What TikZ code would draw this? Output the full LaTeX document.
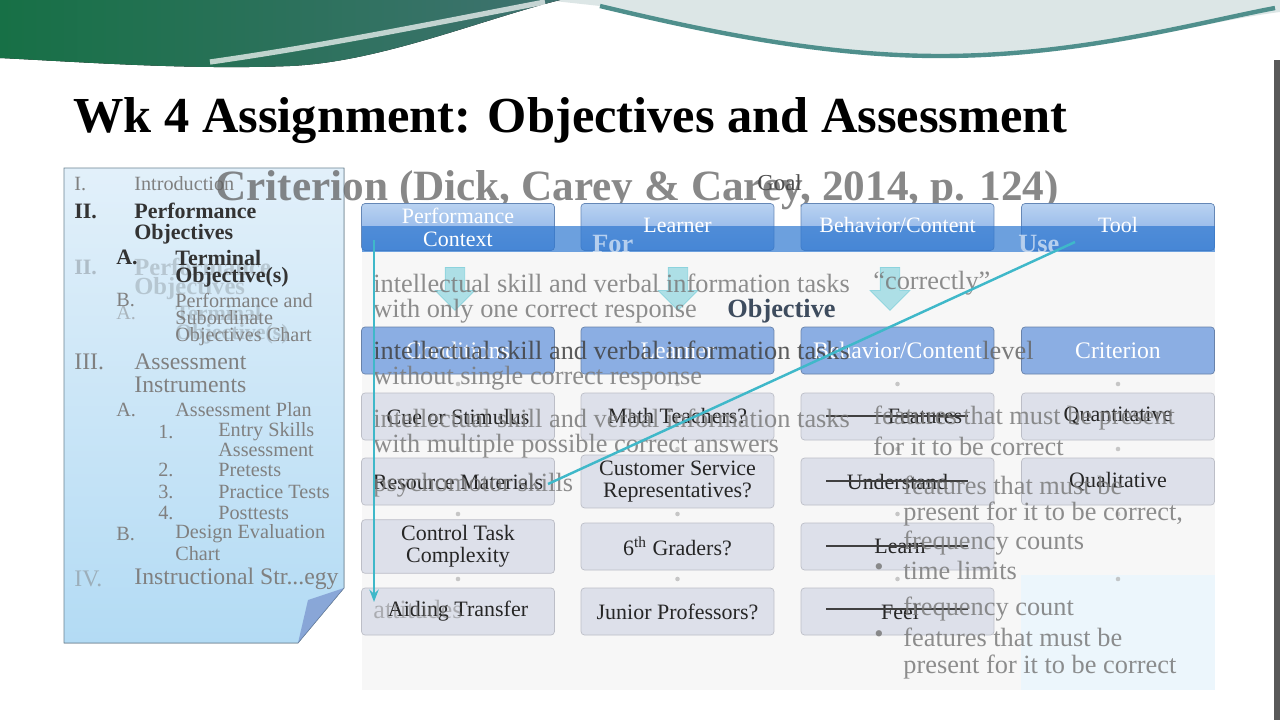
\documentclass[tikz,border=0pt]{standalone}
\usepackage{fontspec}
\setmainfont{Liberation Serif}
\usepackage{tikz}
\usetikzlibrary{arrows.meta}
\usetikzlibrary{shapes.arrows}
\definecolor{colteal}{HTML}{1B5752}
\definecolor{colsea}{HTML}{4F8F8C}
\definecolor{colpale}{HTML}{DCE6E6}
\definecolor{colnote}{HTML}{B3DBF4}
\definecolor{colnotetop}{HTML}{E2F0FA}
\definecolor{colhdr}{HTML}{7EA9E4}
\definecolor{colhdrtop}{HTML}{B9D2F1}
\definecolor{colband}{HTML}{2F78D0}
\definecolor{colcrit}{HTML}{8BAEE3}
\definecolor{colcell}{HTML}{DDE0EA}
\definecolor{colcyan}{HTML}{3FB8C9}
\definecolor{colghost}{HTML}{7A7A7A}
\definecolor{colslate}{HTML}{3E4C5E}

\begin{document}
\begin{tikzpicture}[x=0.02cm, y=-0.02cm]
    \tikzstyle{hdr} = [draw=colhdr!80!black, top color=colhdrtop, bottom color=colhdr, rounded corners=2pt,
                       minimum width=3.86cm, minimum height=0.94cm];
    \tikzstyle{hdrtxt} = [text=white, align=center, font=\fontsize{12.5}{13}\selectfont];
    \tikzstyle{crit} = [draw=colcrit!75!black, fill=colcrit, rounded corners=2pt,
                        minimum width=3.86cm, minimum height=0.94cm, text=white, align=center,
                        font=\fontsize{13.5}{15}\selectfont];
    \tikzstyle{cell} = [draw=colcell!85!black, fill=colcell, rounded corners=2pt,
                        minimum width=3.86cm, minimum height=0.94cm, text=black!85, align=center,
                        font=\fontsize{12.5}{12.5}\selectfont];
    \tikzstyle{ghost} = [anchor=west, text=colghost, opacity=0.85, inner sep=0pt,
                         font=\fontsize{15}{15}\selectfont];
    \tikzstyle{outl} = [anchor=west, text=black!50, inner sep=0pt, font=\fontsize{11.5}{11.5}\selectfont];
    \tikzstyle{outb} = [anchor=west, text=black!80, inner sep=0pt, font=\fontsize{12.5}{12.5}\selectfont\bfseries];
    \tikzstyle{dnarrow} = [single arrow, draw=colcyan!70, fill=colcyan!55, opacity=0.75, shape border rotate=270,
                           inner sep=0.19cm, single arrow head extend=0.2cm, minimum height=0.86cm];

    \useasboundingbox (0,0) rectangle (1280,720);
    \fill[white] (0,0) rectangle (1280,720);

    % top wave
    \fill[colpale] (545,0) -- (1280,0) -- (1280,12) .. controls (1200,22) and (1080,58) .. (940,58)
                   .. controls (820,58) and (700,30) .. (600,6) -- cycle;
    \draw[colsea, line width=2.5pt] (1275,8) .. controls (1200,22) and (1080,56) .. (940,56)
                   .. controls (820,56) and (700,30) .. (600,6);
    \fill[left color=colteal!85!green, right color=colsea!80!black] (0,0) -- (560,0)
                   .. controls (480,20) and (380,62) .. (290,66) .. controls (190,70) and (80,62) .. (0,58) -- cycle;
    \draw[white, opacity=0.7, line width=3pt] (210,62) .. controls (330,45) and (450,20) .. (545,2);
    \fill[black!65] (1274,60) rectangle (1280,720);

    \node (title) at (73,121) [anchor=west, inner sep=0pt, font=\fontsize{28.7}{30}\selectfont\bfseries]
          {Wk 4 Assignment: Objectives and Assessment};

    % note with the outline
    \fill[top color=colnotetop, bottom color=colnote] (64,168) -- (344,168) -- (344,588) -- (298,643) -- (64,643) -- cycle;
    \draw[colnote!60!black, thin] (64,168) -- (344,168) -- (344,588) -- (298,643) -- (64,643) -- cycle;
    \fill[colnote!75!blue!80!black, opacity=0.6] (298,643) -- (344,588) -- (308,600) -- cycle;

    \node (o1n)  at ( 74,184) [outl]{I.};
    \node (o1)   at (134,184) [outl]{Introduction};
    \node (o2n)  at ( 74,211) [outb]{II.};
    \node (o2)   at (134,211) [outb]{Performance};
    \node (o2b)  at (134,234) [outb]{Objectives};
    \node (g2n)  at ( 74,267) [outb, opacity=0.25]{II.};
    \node (g2)   at (134,267) [outb, opacity=0.2, font=\fontsize{14}{14}\selectfont\bfseries]{Performance};
    \node (g2b)  at (134,289) [outb, opacity=0.2, font=\fontsize{14}{14}\selectfont\bfseries]{Objectives};
    \node (g2a)  at (116,313) [outl, opacity=0.5]{A.};
    \node (g2c)  at (175,313) [outb, opacity=0.2]{Terminal};
    \node (g2d)  at (175,334) [outb, opacity=0.2]{Objective(s)};
    \node (o2an) at (116,257) [outb]{A.};
    \node (o2a)  at (175,258) [outb]{Terminal};
    \node (o2a2) at (175,277) [outb]{Objective(s)};
    \node (o2bn) at (116,300) [outl]{B.};
    \node (o2c)  at (175,300) [outl]{Performance and};
    \node (o2c2) at (175,318) [outl]{Subordinate};
    \node (o2c3) at (175,337) [outl]{Objectives Chart};
    \node (o3n)  at ( 74,362) [outl, font=\fontsize{13.5}{13.5}\selectfont]{III.};
    \node (o3)   at (134,362) [outl, font=\fontsize{13.5}{13.5}\selectfont]{Assessment};
    \node (o3b)  at (134,385) [outl, font=\fontsize{13.5}{13.5}\selectfont]{Instruments};
    \node (o3an) at (116,410) [outl]{A.};
    \node (o3a)  at (175,410) [outl]{Assessment Plan};
    \node (s1n)  at (158,432) [outl]{1.};
    \node (s1)   at (218,432) [outl]{Entry Skills};
    \node (s1b)  at (218,450) [outl]{Assessment};
    \node (s2n)  at (158,470) [outl]{2.};
    \node (s2)   at (218,470) [outl]{Pretests};
    \node (s3n)  at (158,492) [outl]{3.};
    \node (s3)   at (218,492) [outl]{Practice Tests};
    \node (s4n)  at (158,513) [outl]{4.};
    \node (s4)   at (218,513) [outl]{Posttests};
    \node (o3bn) at (116,534) [outl]{B.};
    \node (o3c)  at (175,534) [outl]{Design Evaluation};
    \node (o3c2) at (175,554) [outl]{Chart};
    \node (o4n)  at ( 74,579) [outl, font=\fontsize{13.5}{13.5}\selectfont, opacity=0.5]{IV.};
    \node (o4)   at (134,579) [outl, font=\fontsize{13.5}{13.5}\selectfont]{Instructional Str...egy};

    % faint panel behind the chart
    \fill[black!3] (362,252) rectangle (1215,690);
    \fill[colnote!25] (1021,575) rectangle (1215,690);

    \node (crittitle) at (215,190) [anchor=west, inner sep=0pt, text=black!62, opacity=0.75,
          font=\fontsize{24.6}{25}\selectfont\bfseries]{Criterion (Dick, Carey \& Carey, 2014, p. 124)};
    \node (goal) at (757,183) [anchor=west, inner sep=0pt, text=black!70, font=\fontsize{13}{13}\selectfont]{Goal};

    % header row
    \node (pc)  at ( 458,227) [hdr]{};
    \node (le)  at (677.5,227) [hdr]{};
    \node (bc)  at (897.5,227) [hdr]{};
    \node (to)  at (1118,227) [hdr]{};
    \fill[colband, opacity=0.7] (362,226) rectangle (1215,252);
    \node (pct) at ( 458,227) [hdrtxt]{Performance\\Context};
    \node (let) at (677.5,225) [hdrtxt]{Learner};
    \node (bct) at (897.5,225) [hdrtxt]{Behavior/Content};
    \node (tot) at (1118,225) [hdrtxt]{Tool};
    \node (for) at (592,244) [anchor=west, inner sep=0pt, text=white, opacity=0.6, font=\fontsize{15}{15}\selectfont\bfseries]{For};
    \node (use) at (1018,244) [anchor=west, inner sep=0pt, text=white, opacity=0.6, font=\fontsize{15}{15}\selectfont\bfseries]{Use};

    \node (dn1) at ( 455,284) [dnarrow]{};
    \node (dn2) at ( 678,284) [dnarrow]{};
    \node (dn3) at ( 890,284) [dnarrow]{};

    % criterion row
    \node (co)  at ( 458,350.5) [crit]{Conditions};
    \node (le2) at (677.5,350.5) [crit]{Learner};
    \node (bc2) at (897.5,350.5) [crit]{Behavior/Content};
    \node (cr)  at (1118,350.5) [crit]{Criterion};

    % cells
    \node (c11) at ( 458,416.5) [cell]{Cue or Stimulus};
    \node (c21) at ( 458,481.5) [cell]{Resource Materials};
    \node (c31) at ( 458,546.5) [cell]{Control Task\\Complexity};
    \node (c41) at ( 458,611.5) [cell]{Aiding Transfer};
    \node (c12) at (677.5,416.5) [cell]{Math Teachers?};
    \node (c22) at (677.5,481.5) [cell]{Customer Service\\Representatives?};
    \node (c32) at (677.5,546.5) [cell]{6\textsuperscript{th} Graders?};
    \node (c42) at (677.5,611.5) [cell]{Junior Professors?};
    \node (c13) at (897.5,416.5) [cell]{\hspace*{1.1cm}Features};
    \node (c23) at (897.5,481.5) [cell]{Understand};
    \node (c33) at (897.5,546.5) [cell]{\hspace*{0.1cm}Learn};
    \node (c43) at (897.5,611.5) [cell]{\hspace*{0.1cm}Feel};
    \node (c14) at (1118,416.5) [cell]{Quantitative};
    \node (c24) at (1118,481.5) [cell]{Qualitative};

    \foreach \x in {458, 677.5, 897.5, 1118}
      \foreach \y in {384, 449, 514, 579}
        \fill[black!35, opacity=0.6] (\x,\y) circle (1.3pt);

    \begin{scope}[line width=1.2pt, black!75]
      \draw (826,416) -- (968,416);
      \draw (826,481) -- (968,481);
      \draw (826,546) -- (968,546);
      \draw (826,609) -- (968,609);
    \end{scope}

    % text left from the previous slide
    \node (t1)  at (373,283) [ghost]{intellectual skill and verbal information tasks};
    \node (t1b) at (873,283) [ghost]{“correctly”};
    \node (t2)  at (373,311) [ghost]{with only one correct response};
    \node (obj) at (727,311) [anchor=west, inner sep=0pt, text=colslate, font=\fontsize{15}{15}\selectfont\bfseries]{Objective};
    \node (t3)  at (373,350) [ghost, text=black!75]{intellectual skill and verbal information tasks};
    \node (t3b) at (982,350) [ghost, text=black!60]{level};
    \node (t4)  at (373,378) [ghost]{without single correct response};
    \node (t5)  at (373,418) [ghost]{intellectual skill and verbal information tasks};
    \node (t6)  at (373,446) [ghost]{with multiple possible correct answers};
    \node (t7)  at (373,485) [ghost]{psychomotor skills};
    \node (t8)  at (373,609) [ghost, opacity=0.5]{attitudes};
    \node (f1)  at (873,418) [ghost]{features that must be present};
    \node (f2)  at (873,446) [ghost]{for it to be correct};
    \node (f3)  at (903,485) [ghost]{features that must be};
    \node (f4)  at (903,514) [ghost]{present for it to be correct,};
    \node (f5)  at (903,543) [ghost]{frequency counts};
    \node (b1)  at (874,570) [ghost]{•};
    \node (f6)  at (903,570) [ghost]{time limits};
    \node (f7)  at (903,609) [ghost]{frequency count};
    \node (b2)  at (874,637) [ghost]{•};
    \node (f8)  at (903,637) [ghost]{features that must be};
    \node (f9)  at (903,667) [ghost]{present for it to be correct};

    % motion paths
    \coordinate (vtop) at (374,240);
    \coordinate (vbot) at (374,602);
    \coordinate (dtop) at (1075,242);
    \coordinate (dbot) at (548,484);
    \begin{scope}[line width=1.4pt, colcyan]
      \draw[-{Stealth[length=7pt]}] (vtop) -- (vbot);
      \draw (dtop) -- (dbot);
    \end{scope}
\end{tikzpicture}
\end{document}
